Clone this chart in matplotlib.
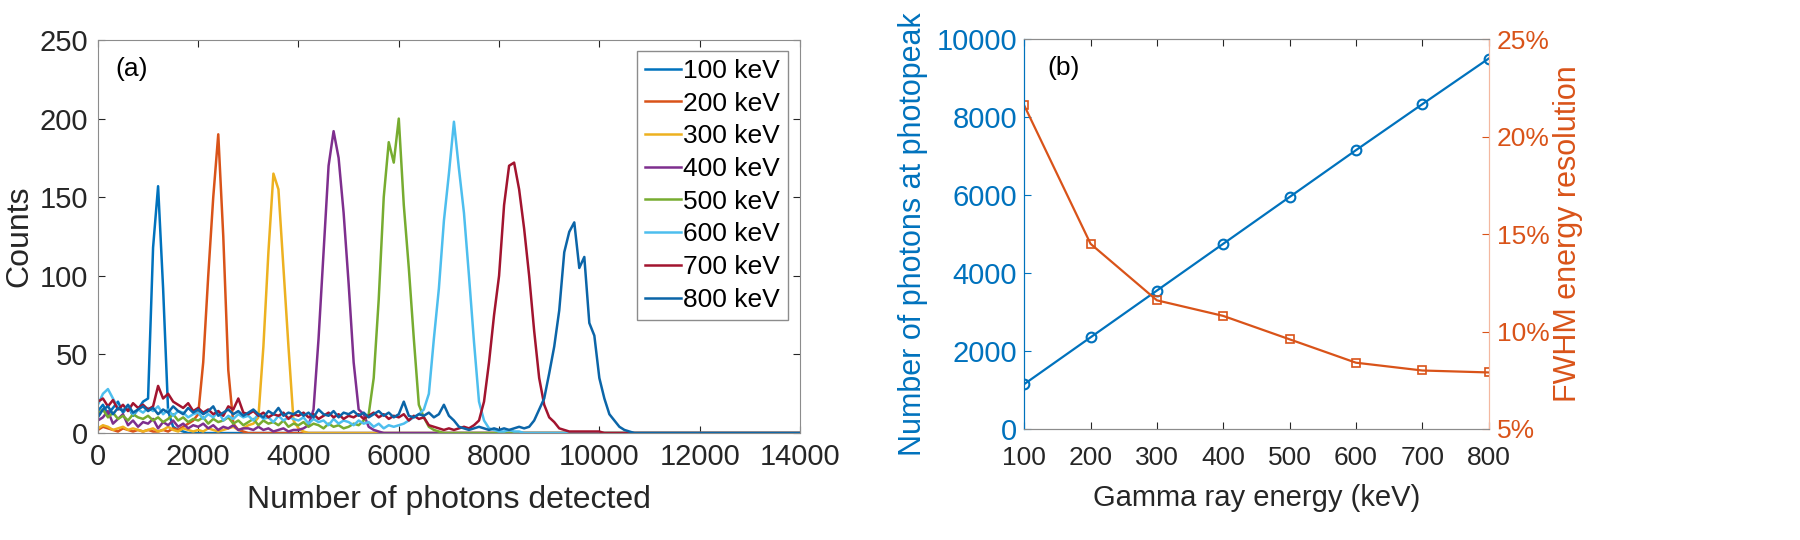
import matplotlib
matplotlib.use("Agg")
import matplotlib.pyplot as plt
import numpy as np
from matplotlib.ticker import FuncFormatter

plt.rcParams['font.family'] = ['Liberation Sans', 'DejaVu Sans']

# ---------- data ----------
# spectra: counts in bins of 100 photons, starting at 0 (zeros after the last value)
bin_width = 100
x_max = 14000
labels = ["100 keV", "200 keV", "300 keV", "400 keV",
          "500 keV", "600 keV", "700 keV", "800 keV"]
colors = ["#0072BD", "#D95319", "#EDB120", "#7E2F8E",
          "#77AC30", "#4DBEEE", "#A2142F", "#0b65a8"]

counts_100 = [14, 18, 12, 16, 20, 13, 17, 11, 15, 20,
              22, 118, 157, 92, 14, 4, 2, 1]
counts_200 = [2, 4, 3, 2, 1, 3, 2, 1, 2, 1,
              2, 1, 1, 2, 1, 3, 2, 4, 6, 8,
              12, 45, 100, 150, 190, 125, 40, 6, 2, 1]
counts_300 = [3, 5, 4, 2, 3, 4, 2, 3, 2, 1,
              2, 3, 1, 2, 4, 2, 1, 3, 2, 1,
              2, 1, 3, 2, 1, 2, 3, 4, 2, 3,
              5, 6, 10, 55, 115, 165, 155, 105, 55, 8, 3, 1]
counts_400 = [8, 10, 14, 6, 9, 12, 5, 8, 4, 7,
              6, 9, 3, 7, 5, 8, 4, 6, 3, 5,
              4, 6, 3, 5, 2, 4, 3, 5, 2, 3,
              3, 2, 4, 2, 3, 1, 2, 3, 1, 2,
              2, 3, 5, 15, 60, 115, 170, 192, 175, 140,
              95, 45, 15, 12, 4, 2, 1]
counts_500 = [12, 15, 10, 13, 9, 11, 8, 12, 10, 9,
              11, 8, 10, 7, 9, 12, 8, 10, 7, 9,
              8, 10, 6, 9, 7, 8, 10, 6, 8, 5,
              7, 9, 5, 8, 6, 7, 5, 8, 4, 6,
              5, 7, 4, 6, 5, 3, 6, 4, 5, 3,
              4, 6, 5, 8, 12, 35, 85, 150, 185, 172,
              200, 145, 105, 60, 18, 10, 4, 2, 1]
counts_600 = [18, 25, 28, 22, 16, 14, 17, 12, 15, 13,
              16, 14, 17, 12, 15, 11, 14, 13, 10, 12,
              13, 9, 12, 10, 14, 8, 11, 9, 12, 10,
              11, 8, 12, 9, 10, 7, 11, 8, 10, 9,
              8, 10, 6, 9, 7, 8, 5, 9, 6, 8,
              7, 5, 8, 6, 7, 4, 6, 3, 5, 4,
              5, 6, 8, 10, 12, 15, 25, 60, 92, 135,
              165, 198, 168, 140, 100, 58, 20, 8, 3, 2,
              1, 1, 2, 1, 1]
counts_700 = [20, 22, 17, 21, 15, 18, 14, 19, 16, 18,
              15, 17, 30, 22, 25, 20, 18, 16, 19, 14,
              16, 13, 15, 12, 14, 11, 17, 15, 22, 13,
              12, 14, 11, 13, 10, 12, 11, 13, 9, 12,
              11, 13, 10, 12, 9, 11, 13, 10, 12, 9,
              11, 10, 12, 9, 11, 13, 10, 12, 9, 11,
              10, 12, 8, 11, 9, 10, 5, 4, 3, 2,
              3, 2, 3, 4, 3, 5, 8, 20, 45, 75,
              100, 145, 170, 172, 155, 130, 100, 65, 35, 18,
              10, 7, 3, 2, 1, 1, 1, 1, 1, 1, 1]
counts_800 = [10, 15, 17, 12, 16, 14, 18, 13, 15, 17,
              14, 16, 12, 15, 13, 17, 14, 12, 16, 13,
              15, 12, 14, 17, 11, 13, 15, 12, 14, 11,
              13, 15, 12, 10, 14, 12, 16, 11, 13, 12,
              14, 11, 13, 10, 15, 12, 11, 14, 10, 13,
              12, 14, 11, 13, 10, 12, 14, 11, 13, 10,
              12, 20, 11, 10, 12, 11, 13, 10, 12, 18,
              11, 8, 4, 3, 2, 3, 4, 3, 2, 3,
              2, 3, 2, 3, 4, 3, 4, 8, 15, 22,
              38, 55, 78, 115, 128, 134, 105, 112, 70, 62,
              35, 22, 12, 8, 4, 2, 1]
spectra = [counts_100, counts_200, counts_300, counts_400,
           counts_500, counts_600, counts_700, counts_800]

# panel (b)
energy_kev = [100, 200, 300, 400, 500, 600, 700, 800]
photopeak_photons = [1150, 2350, 3550, 4750, 5950, 7150, 8330, 9500]
fwhm_resolution = [21.6, 14.5, 11.6, 10.8, 9.6, 8.4, 8.0, 7.9]

# ---------- figure ----------
fig = plt.figure(figsize=(18, 5.4), dpi=100)
text_col = "#262626"
blue = "#0072BD"
orange = "#D95319"

ax = fig.add_axes([0.0544, 0.198, 0.39, 0.728])
n_bins = x_max // bin_width + 1
x = np.arange(n_bins) * bin_width
for c, lab, col in zip(spectra, labels, colors):
    y = np.zeros(n_bins)
    y[:len(c)] = c
    ax.plot(x, y, color=col, lw=1.8, label=lab)

ax.set_xlim(0, 14000)
ax.set_ylim(0, 250)
ax.set_xticks(range(0, 14001, 2000))
ax.set_yticks(range(0, 251, 50))
ax.tick_params(direction="in", top=True, right=True, labelsize=21,
               colors=text_col, length=5, pad=7)
for s in ax.spines.values():
    s.set_color("#8c8c8c")
ax.set_xlabel("Number of photons detected", fontsize=23, color=text_col,
              labelpad=10)
ax.set_ylabel("Counts", fontsize=23, color=text_col, labelpad=4)
ax.text(0.025, 0.925, "(a)", transform=ax.transAxes, fontsize=19,
        color="black", va="center")
leg = ax.legend(loc="upper right", bbox_to_anchor=(0.983, 0.972),
                borderaxespad=0, fontsize=19, fancybox=False,
                handlelength=1.35, handletextpad=0.1, labelspacing=0.33,
                borderpad=0.3, framealpha=1)
leg.get_frame().set_edgecolor("#8c8c8c")
leg.get_frame().set_linewidth(1.0)

# panel (b)
bx = fig.add_axes([0.569, 0.2056, 0.258, 0.722])
bx.plot(energy_kev, photopeak_photons, color=blue, lw=1.6, marker="o",
        ms=7, mfc="none", mew=1.5)
bx.set_xlim(100, 800)
bx.set_ylim(0, 10000)
bx.set_xticks(energy_kev)
bx.set_yticks(range(0, 10001, 2000))
bx.tick_params(axis="x", direction="in", top=True, labelsize=19,
               colors=text_col, length=5, pad=12)
bx.tick_params(axis="y", direction="in", labelsize=21, colors=blue,
               length=5, pad=5)
bx.set_xlabel("Gamma ray energy (keV)", fontsize=21, color=text_col,
              labelpad=10)
bx.set_ylabel("Number of photons at photopeak", fontsize=22, color=blue,
              labelpad=6)
bx.text(0.05, 0.925, "(b)", transform=bx.transAxes, fontsize=19,
        color="black", va="center")

tx = bx.twinx()
tx.plot(energy_kev, fwhm_resolution, color=orange, lw=1.6, marker="s",
        ms=6, mfc="none", mew=1.2)
tx.set_ylim(5, 25)
tx.set_yticks([5, 10, 15, 20, 25])
tx.yaxis.set_major_formatter(FuncFormatter(lambda v, p: f"{v:.0f}%"))
tx.tick_params(axis="y", direction="in", labelsize=19, colors=orange,
               length=5, pad=6)
tx.set_ylabel("FWHM energy resolution", fontsize=22, color=orange,
              labelpad=2)

for a in (bx, tx):
    a.spines["top"].set_color("#8c8c8c")
    a.spines["bottom"].set_color("#8c8c8c")
    a.spines["left"].set_color(blue)
    a.spines["right"].set_color("#f4b8a0")

fig.savefig("out.png", dpi=100)
